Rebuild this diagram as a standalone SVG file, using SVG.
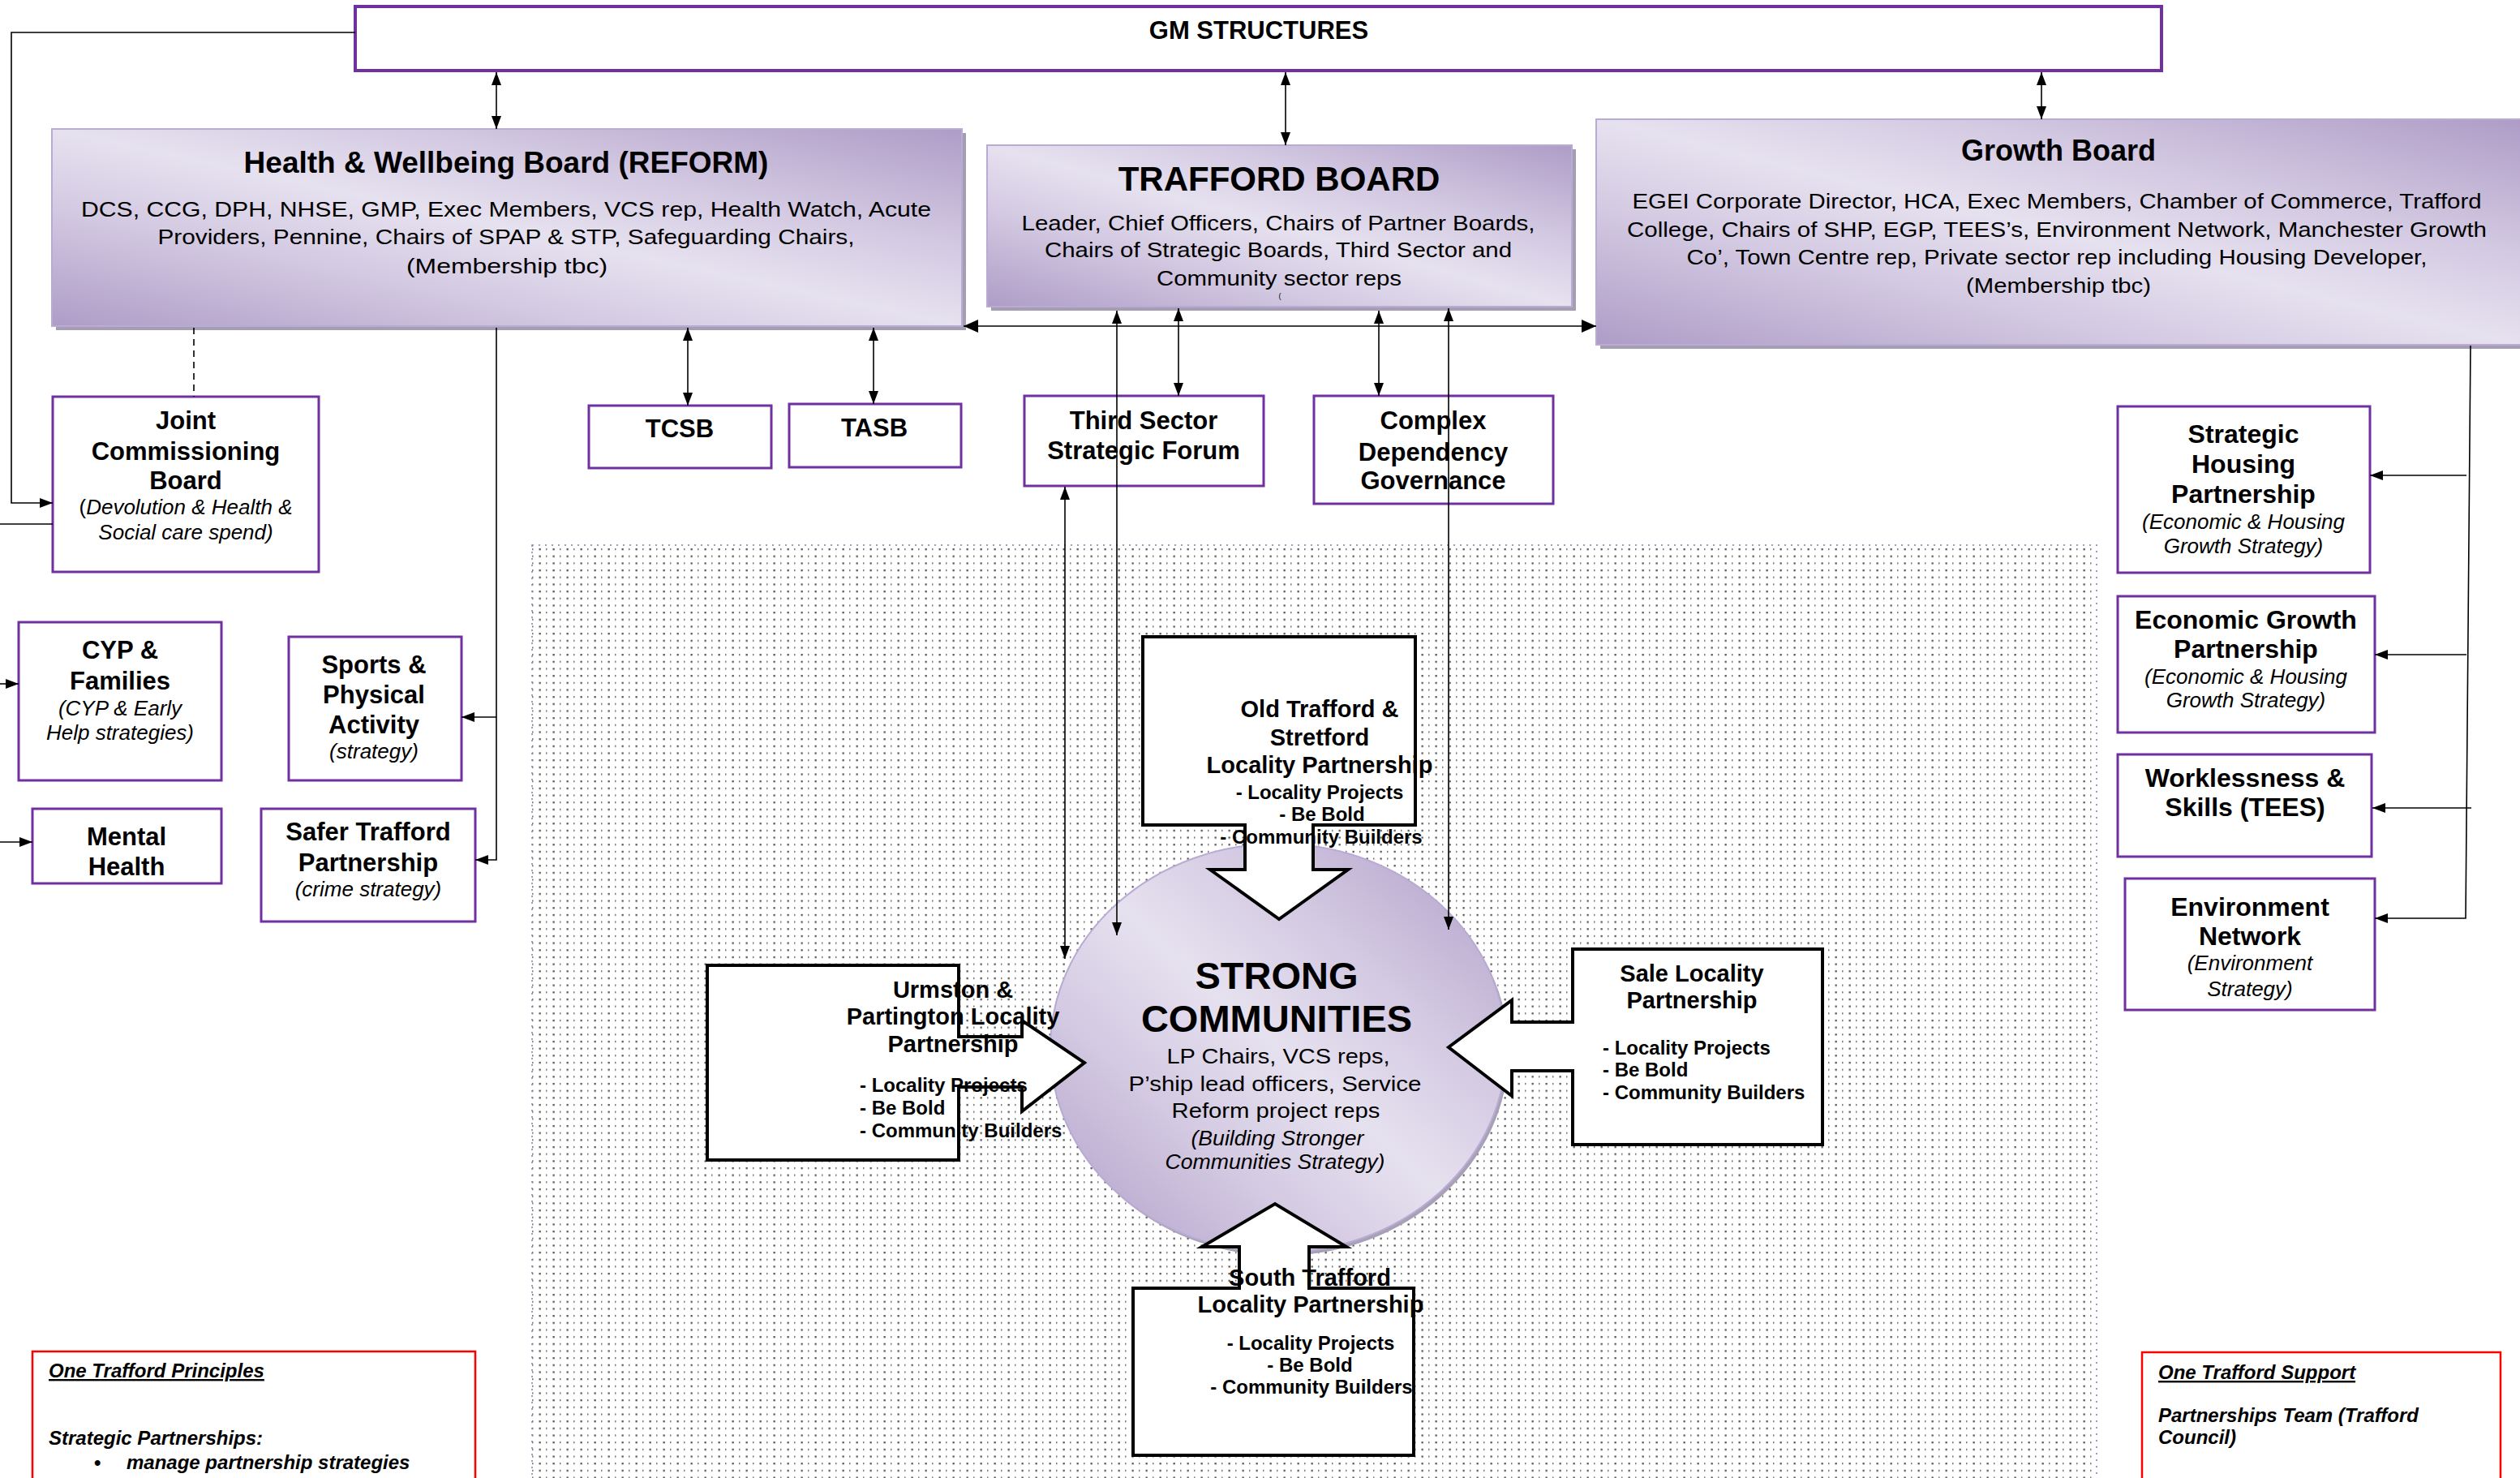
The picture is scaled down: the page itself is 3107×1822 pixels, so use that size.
<svg xmlns="http://www.w3.org/2000/svg" width="3107" height="1822" viewBox="0 0 3107 1822">
<style>
text{font-family:"Liberation Sans",Arial,sans-serif;fill:#000}
.b{font-weight:bold}
.i{font-style:italic}
.m{text-anchor:middle}
.reg{font-size:25px}
.box{fill:#fff;stroke:#7030A0;stroke-width:3}
.board{stroke:#B9ABD3;stroke-width:2}
.shadow{fill:#A59DB3}
.co{fill:#fff;stroke:#000;stroke-width:4;stroke-linejoin:miter}
.ln{fill:none;stroke:#000;stroke-width:1.6}
.red{fill:#fff;stroke:#FF0000;stroke-width:2.5}
</style>
<defs>
<linearGradient id="lav" x1="0" y1="1" x2="1" y2="0">
<stop offset="0" stop-color="#AE9CC6"/>
<stop offset="0.3" stop-color="#D3C9E2"/>
<stop offset="0.5" stop-color="#E6E1EF"/>
<stop offset="0.7" stop-color="#D3C9E2"/>
<stop offset="1" stop-color="#AE9CC6"/>
</linearGradient>
<pattern id="dots" patternUnits="userSpaceOnUse" x="656" y="676" width="17" height="8.67">
<rect x="0" y="0" width="1.5" height="2.2" fill="#777"/>
<rect x="8.5" y="0" width="2.3" height="2.3" fill="#5a5a5a"/>
</pattern>
<marker id="ah" viewBox="0 0 16 12" refX="16" refY="6" markerWidth="16" markerHeight="12" markerUnits="userSpaceOnUse" orient="auto-start-reverse">
<path d="M0,0 L16,6 L0,12 z" fill="#000"/>
</marker>
<marker id="ahb" viewBox="0 0 18 16" refX="18" refY="8" markerWidth="18" markerHeight="16" markerUnits="userSpaceOnUse" orient="auto-start-reverse">
<path d="M0,0 L18,8 L0,16 z" fill="#000"/>
</marker>
</defs>
<rect width="3107" height="1822" fill="#fff"/>

<!-- dotted background region -->
<rect x="656" y="672" width="1929" height="1160" fill="url(#dots)" stroke="#8E70BE" stroke-width="1.5" stroke-dasharray="2 6"/>

<g id="gm-structures">
<rect x="438" y="8" width="2227" height="79" fill="#fff" stroke="#7030A0" stroke-width="4"/>
<text class="b m" x="1552" y="48" font-size="31">GM STRUCTURES</text>
</g>

<g id="health-wellbeing-board">
<rect class="shadow" x="69" y="164" width="1122" height="243"/>
<rect class="board" x="64" y="159" width="1122" height="243" fill="url(#lav)"/>
<text class="b m" x="624" y="213" font-size="37">Health &amp; Wellbeing Board (REFORM)</text>
<text class="reg m" x="624" y="267" textLength="1048" lengthAdjust="spacingAndGlyphs">DCS, CCG, DPH,  NHSE, GMP,  Exec Members, VCS rep, Health Watch,  Acute</text>
<text class="reg m" x="624" y="301" textLength="859" lengthAdjust="spacingAndGlyphs">Providers, Pennine, Chairs of  SPAP &amp; STP, Safeguarding Chairs,</text>
<text class="reg m" x="625" y="337" textLength="248" lengthAdjust="spacingAndGlyphs">(Membership tbc)</text>
</g>

<g id="trafford-board">
<rect class="shadow" x="1222" y="184" width="721" height="199"/>
<rect class="board" x="1217" y="179" width="721" height="199" fill="url(#lav)"/>
<text class="b m" x="1577" y="235" font-size="42">TRAFFORD BOARD</text>
<text class="reg m" x="1576" y="284" textLength="633" lengthAdjust="spacingAndGlyphs">Leader, Chief Officers, Chairs of Partner Boards,</text>
<text class="reg m" x="1576" y="317" textLength="576" lengthAdjust="spacingAndGlyphs">Chairs of Strategic Boards, Third Sector and</text>
<text class="reg m" x="1577" y="352" textLength="302" lengthAdjust="spacingAndGlyphs">Community sector reps</text>
<text class="m" x="1578" y="368" font-size="9">(</text>
</g>

<g id="growth-board">
<rect class="shadow" x="1973" y="152" width="1140" height="278"/>
<rect class="board" x="1968" y="147" width="1140" height="278" fill="url(#lav)"/>
<text class="b m" x="2538" y="198" font-size="36">Growth Board</text>
<text class="reg m" x="2536" y="257" textLength="1047" lengthAdjust="spacingAndGlyphs">EGEI Corporate Director, HCA, Exec Members, Chamber of Commerce, Trafford</text>
<text class="reg m" x="2536" y="292" textLength="1060" lengthAdjust="spacingAndGlyphs">College, Chairs of SHP, EGP, TEES’s, Environment Network, Manchester Growth</text>
<text class="reg m" x="2536" y="326" textLength="913" lengthAdjust="spacingAndGlyphs">Co’, Town Centre rep, Private sector rep including Housing Developer,</text>
<text class="reg m" x="2538" y="361" textLength="228" lengthAdjust="spacingAndGlyphs">(Membership tbc)</text>
</g>

<g id="joint-commissioning-board">
<rect class="box" x="65" y="489" width="328" height="216"/>
<text class="b m" x="229" y="529" font-size="31">Joint</text>
<text class="b m" x="229" y="567" font-size="31">Commissioning</text>
<text class="b m" x="229" y="603" font-size="31">Board</text>
<text class="m" x="229" y="634" font-size="26">(<tspan class="i">Devolution &amp; Health &amp;</tspan></text>
<text class="i m" x="229" y="665" font-size="26">Social care spend)</text>
</g>

<g id="tcsb">
<rect class="box" x="726" y="500" width="225" height="77"/>
<text class="b m" x="838" y="539" font-size="31">TCSB</text>
</g>

<g id="tasb">
<rect class="box" x="973" y="498" width="212" height="78"/>
<text class="b m" x="1078" y="538" font-size="31">TASB</text>
</g>

<g id="third-sector-strategic-forum">
<rect class="box" x="1263" y="488" width="295" height="111"/>
<text class="b m" x="1410" y="529" font-size="31">Third Sector</text>
<text class="b m" x="1410" y="566" font-size="31">Strategic Forum</text>
</g>

<g id="complex-dependency-governance">
<rect class="box" x="1620" y="488" width="295" height="133"/>
<text class="b m" x="1767" y="529" font-size="31">Complex</text>
<text class="b m" x="1767" y="568" font-size="31">Dependency</text>
<text class="b m" x="1767" y="603" font-size="31">Governance</text>
</g>

<g id="cyp-families">
<rect class="box" x="23" y="767" width="250" height="195"/>
<text class="b m" x="148" y="812" font-size="31">CYP &amp;</text>
<text class="b m" x="148" y="850" font-size="31">Families</text>
<text class="i m" x="148" y="882" font-size="26">(CYP &amp; Early</text>
<text class="i m" x="148" y="912" font-size="26">Help strategies)</text>
</g>

<g id="sports-physical-activity">
<rect class="box" x="356" y="785" width="213" height="177"/>
<text class="b m" x="461" y="830" font-size="31">Sports &amp;</text>
<text class="b m" x="461" y="867" font-size="31">Physical</text>
<text class="b m" x="461" y="904" font-size="31">Activity</text>
<text class="i m" x="461" y="935" font-size="26">(strategy)</text>
</g>

<g id="mental-health">
<rect class="box" x="40" y="997" width="233" height="92"/>
<text class="b m" x="156" y="1042" font-size="31">Mental</text>
<text class="b m" x="156" y="1079" font-size="31">Health</text>
</g>

<g id="safer-trafford-partnership">
<rect class="box" x="322" y="997" width="264" height="139"/>
<text class="b m" x="454" y="1036" font-size="31">Safer Trafford</text>
<text class="b m" x="454" y="1074" font-size="31">Partnership</text>
<text class="i m" x="454" y="1105" font-size="26">(crime strategy)</text>
</g>

<g id="strategic-housing-partnership">
<rect class="box" x="2611" y="501" width="311" height="205"/>
<text class="b m" x="2766" y="546" font-size="32">Strategic</text>
<text class="b m" x="2766" y="583" font-size="32">Housing</text>
<text class="b m" x="2766" y="620" font-size="32">Partnership</text>
<text class="i m" x="2766" y="652" font-size="26">(Economic &amp; Housing</text>
<text class="i m" x="2766" y="682" font-size="26">Growth Strategy)</text>
</g>

<g id="economic-growth-partnership">
<rect class="box" x="2611" y="735" width="317" height="168"/>
<text class="b m" x="2769" y="775" font-size="32">Economic Growth</text>
<text class="b m" x="2769" y="811" font-size="32">Partnership</text>
<text class="i m" x="2769" y="843" font-size="26">(Economic &amp; Housing</text>
<text class="i m" x="2769" y="872" font-size="26">Growth Strategy)</text>
</g>

<g id="worklessness-skills">
<rect class="box" x="2611" y="930" width="313" height="126"/>
<text class="b m" x="2768" y="970" font-size="32">Worklessness &amp;</text>
<text class="b m" x="2768" y="1006" font-size="32">Skills (TEES)</text>
</g>

<g id="environment-network">
<rect class="box" x="2620" y="1083" width="308" height="162"/>
<text class="b m" x="2774" y="1129" font-size="32">Environment</text>
<text class="b m" x="2774" y="1165" font-size="32">Network</text>
<text class="i m" x="2774" y="1196" font-size="26">(Environment</text>
<text class="i m" x="2774" y="1228" font-size="26">Strategy)</text>
</g>

<g id="strong-communities">
<ellipse cx="1579" cy="1296" rx="281" ry="252" fill="#A8A0B6"/>
<ellipse cx="1576" cy="1292" rx="281" ry="252" fill="url(#lav)" stroke="#B9ABD3" stroke-width="2"/>
<text class="b m" x="1574" y="1219" font-size="47">STRONG</text>
<text class="b m" x="1574" y="1272" font-size="47">COMMUNITIES</text>
<text class="reg m" x="1576" y="1311" textLength="275" lengthAdjust="spacingAndGlyphs">LP Chairs, VCS reps,</text>
<text class="reg m" x="1572" y="1345" textLength="361" lengthAdjust="spacingAndGlyphs">P’ship lead officers, Service</text>
<text class="reg m" x="1573" y="1378" textLength="257" lengthAdjust="spacingAndGlyphs">Reform project reps</text>
<text class="reg i m" x="1575" y="1412" textLength="213" lengthAdjust="spacingAndGlyphs">(Building Stronger</text>
<text class="reg i m" x="1572" y="1441" textLength="271" lengthAdjust="spacingAndGlyphs">Communities Strategy)</text>
</g>

<g id="connectors">
<line class="ln" x1="612" y1="89" x2="612" y2="159" marker-start="url(#ah)" marker-end="url(#ah)"/>
<line class="ln" x1="1585" y1="89" x2="1585" y2="179" marker-start="url(#ah)" marker-end="url(#ah)"/>
<line class="ln" x1="2517" y1="89" x2="2517" y2="147" marker-start="url(#ah)" marker-end="url(#ah)"/>
<polyline class="ln" points="438,40 14,40 14,620 65,620" marker-end="url(#ah)"/>
<line class="ln" x1="0" y1="646" x2="65" y2="646"/>
<line class="ln" x1="0" y1="843" x2="23" y2="843" marker-end="url(#ah)"/>
<line class="ln" x1="0" y1="1038" x2="40" y2="1038" marker-end="url(#ah)"/>
<line class="ln" x1="239" y1="404" x2="239" y2="489" stroke-dasharray="8 6"/>
<polyline class="ln" points="612,404 612,1060 586,1060" marker-end="url(#ah)"/>
<line class="ln" x1="612" y1="884" x2="569" y2="884" marker-end="url(#ah)"/>
<line class="ln" x1="848" y1="404" x2="848" y2="500" marker-start="url(#ah)" marker-end="url(#ah)"/>
<line class="ln" x1="1077" y1="404" x2="1077" y2="498" marker-start="url(#ah)" marker-end="url(#ah)"/>
<line class="ln" x1="1188" y1="402" x2="1968" y2="402" stroke-width="3" marker-start="url(#ahb)" marker-end="url(#ahb)"/>
<line class="ln" x1="1453" y1="380" x2="1453" y2="488" marker-start="url(#ah)" marker-end="url(#ah)"/>
<line class="ln" x1="1700" y1="383" x2="1700" y2="488" marker-start="url(#ah)" marker-end="url(#ah)"/>
<line class="ln" x1="1377" y1="383" x2="1377" y2="1153" marker-start="url(#ah)" marker-end="url(#ah)"/>
<line class="ln" x1="1786" y1="380" x2="1786" y2="1146" marker-start="url(#ah)" marker-end="url(#ah)"/>
<line class="ln" x1="1313" y1="600" x2="1313" y2="1182" marker-start="url(#ah)" marker-end="url(#ah)"/>
<polyline class="ln" points="3046,426 3040,1132 2928,1132" marker-end="url(#ah)"/>
<line class="ln" x1="3041" y1="586" x2="2922" y2="586" marker-end="url(#ah)"/>
<line class="ln" x1="3041" y1="807" x2="2928" y2="807" marker-end="url(#ah)"/>
<line class="ln" x1="3047" y1="996" x2="2925" y2="996" marker-end="url(#ah)"/>
</g>

<g id="old-trafford-stretford-lp">
<path class="co" d="M1409,785 H1745 V1017 H1619 V1072 H1662 L1577,1133 L1492,1072 H1535 V1017 H1409 Z"/>
<text class="b m" x="1627" y="884" font-size="29">Old Trafford &amp;</text>
<text class="b m" x="1627" y="919" font-size="29">Stretford</text>
<text class="b m" x="1627" y="953" font-size="29">Locality Partnership</text>
<text class="b m" x="1627" y="985" font-size="24">- Locality Projects</text>
<text class="b m" x="1630" y="1012" font-size="24">- Be Bold</text>
<text class="b m" x="1629" y="1040" font-size="24">- Community Builders</text>
</g>

<g id="urmston-partington-lp">
<path class="co" d="M872,1190 H1182 V1278 H1260 V1258 L1337,1310 L1260,1370 V1340 H1182 V1430 H872 Z"/>
<text class="b m" x="1175" y="1230" font-size="29">Urmston &amp;</text>
<text class="b m" x="1175" y="1263" font-size="29">Partington Locality</text>
<text class="b m" x="1175" y="1297" font-size="29">Partnership</text>
<text class="b" x="1060" y="1346" font-size="24">- Locality Projects</text>
<text class="b" x="1060" y="1374" font-size="24">- Be Bold</text>
<text class="b" x="1060" y="1402" font-size="24">- Community Builders</text>
</g>

<g id="sale-lp">
<path class="co" d="M1939,1170 H2247 V1411 H1939 V1320 H1864 V1351 L1786,1291 L1864,1233 V1260 H1939 Z"/>
<text class="b m" x="2086" y="1210" font-size="29">Sale Locality</text>
<text class="b m" x="2086" y="1243" font-size="29">Partnership</text>
<text class="b" x="1976" y="1300" font-size="24">- Locality Projects</text>
<text class="b" x="1976" y="1327" font-size="24">- Be Bold</text>
<text class="b" x="1976" y="1355" font-size="24">- Community Builders</text>
</g>

<g id="south-trafford-lp">
<path class="co" d="M1397,1588 H1528 V1537 H1482 L1572,1484 L1660,1537 H1614 V1588 H1743 V1794 H1397 Z"/>
<text class="b m" x="1615" y="1585" font-size="29">South Trafford</text>
<text class="b m" x="1616" y="1618" font-size="29">Locality Partnership</text>
<text class="b m" x="1616" y="1664" font-size="24">- Locality Projects</text>
<text class="b m" x="1615" y="1691" font-size="24">- Be Bold</text>
<text class="b m" x="1617" y="1718" font-size="24">- Community Builders</text>
</g>

<g id="one-trafford-principles">
<rect class="red" x="40" y="1666" width="546" height="200"/>
<text class="b i" x="60" y="1698" font-size="24" text-decoration="underline">One Trafford Principles</text>
<text class="b i" x="60" y="1781" font-size="24">Strategic Partnerships:</text>
<text class="b" x="116" y="1811" font-size="24">•</text>
<text class="b i" x="156" y="1811" font-size="24">manage partnership strategies</text>
</g>

<g id="one-trafford-support">
<rect class="red" x="2641" y="1667" width="442" height="200"/>
<text class="b i" x="2661" y="1700" font-size="24" text-decoration="underline">One Trafford Support</text>
<text class="b i" x="2661" y="1753" font-size="24">Partnerships Team (Trafford</text>
<text class="b i" x="2661" y="1780" font-size="24">Council)</text>
</g>
</svg>
